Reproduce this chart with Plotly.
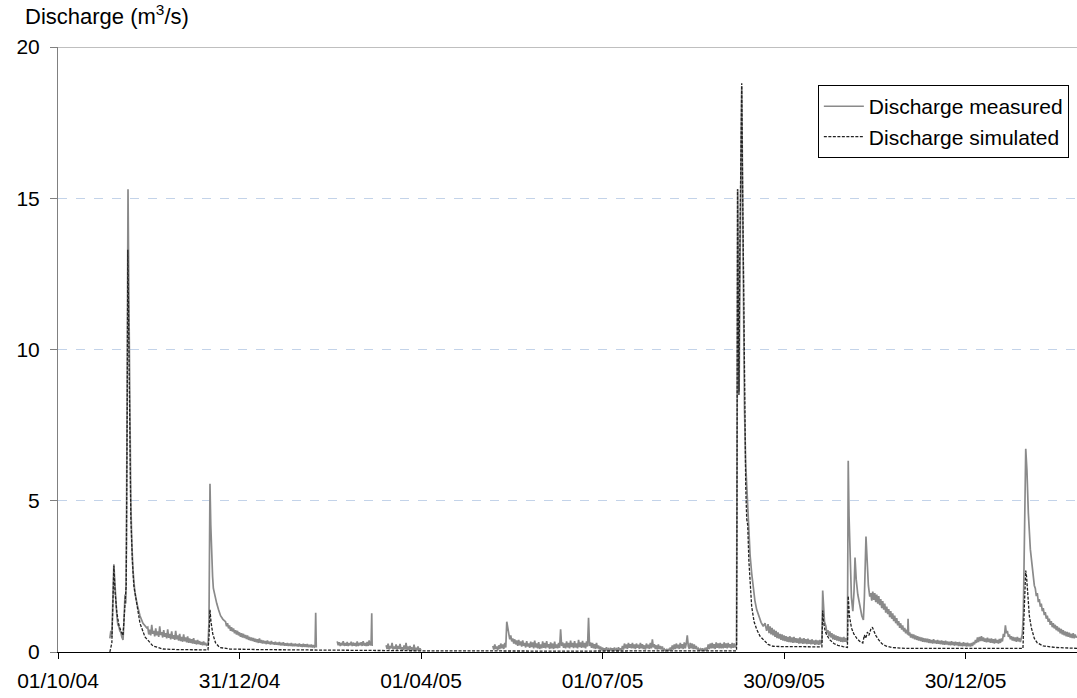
import pandas as pd
import plotly.graph_objects as go

# ---- data: time in days since 01/10/2004, discharge in m3/s ----
START = "2004-10-01"
HALF = 0.5  # half-day sampling step used for the noisy stretches


def grid(start, n, step=HALF):
    """Regular sampling times (days) for a stretch of readings."""
    return [start + step * i for i in range(n)]


# measured discharge ------------------------------------------------------
# autumn 2004 floods
meas_days_a1 = [26.0, 26.5, 27.0, 27.5, 28.0, 28.5, 29.0, 29.5, 30.0, 30.5,
                31.0, 31.5, 32.0, 32.6, 33.0, 33.6, 34.0, 34.3, 34.7, 35.1,
                35.5, 36.0, 36.5, 37.0, 37.6, 38.5, 39.6, 41.1, 42.6, 44.5]
meas_q_a1 = [0.45, 0.7, 0.5, 1.5, 2.9, 2.3, 1.6, 1.2, 0.9, 0.85,
             0.7, 0.65, 0.5, 0.4, 0.9, 1.9, 1.6, 3.5, 9.0, 15.3,
             12.0, 7.5, 5.0, 3.6, 2.7, 2.0, 1.6, 1.2, 0.95, 0.8]
meas_days_a2 = grid(45.0, 60)
meas_q_a2 = [0.82, 0.58, 0.74, 0.55, 0.9, 0.6, 0.7, 0.52, 0.78, 0.55,
             0.68, 0.5, 0.85, 0.56, 0.66, 0.48, 0.72, 0.5, 0.62, 0.45,
             0.75, 0.47, 0.6, 0.42, 0.68, 0.44, 0.56, 0.4, 0.7, 0.42,
             0.55, 0.38, 0.6, 0.36, 0.5, 0.34, 0.58, 0.35, 0.48, 0.32,
             0.52, 0.3, 0.45, 0.3, 0.42, 0.28, 0.46, 0.27, 0.38, 0.25,
             0.4, 0.26, 0.36, 0.24, 0.33, 0.22, 0.35, 0.23, 0.3, 0.22]
meas_days_a3 = [75.2, 75.7, 76.2, 76.6, 77.0, 77.5, 77.9, 78.6, 79.6, 80.5, 81.5, 82.7]
meas_q_a3 = [0.24, 1.0, 5.56, 4.2, 3.2, 2.5, 2.1, 1.85, 1.6, 1.4, 1.2, 1.08]
meas_days_a4 = grid(84.0, 90)
meas_q_a4 = [1.0, 0.85, 0.95, 0.78, 0.88, 0.7, 0.82, 0.68, 0.78, 0.62,
             0.72, 0.58, 0.7, 0.55, 0.65, 0.5, 0.62, 0.48, 0.6, 0.46,
             0.56, 0.43, 0.55, 0.4, 0.5, 0.38, 0.48, 0.36, 0.46, 0.34,
             0.44, 0.32, 0.42, 0.3, 0.45, 0.3, 0.4, 0.28, 0.38, 0.28,
             0.36, 0.26, 0.38, 0.27, 0.34, 0.25, 0.36, 0.26, 0.32, 0.24,
             0.34, 0.24, 0.31, 0.23, 0.33, 0.22, 0.3, 0.22, 0.32, 0.21,
             0.29, 0.21, 0.3, 0.2, 0.28, 0.2, 0.3, 0.19, 0.27, 0.19,
             0.28, 0.19, 0.26, 0.18, 0.28, 0.18, 0.25, 0.17, 0.27, 0.17,
             0.25, 0.17, 0.26, 0.16, 0.24, 0.16, 0.25, 0.15, 0.23, 0.16]
meas_days_a5 = [128.9, 129.2, 129.5]
meas_q_a5 = [0.18, 1.3, 0.15]

# February 2005
meas_days_b = grid(140.0, 34) + [157.0, 157.3, 157.5]
meas_q_b = [0.35, 0.22, 0.32, 0.2, 0.3, 0.22, 0.36, 0.2, 0.3, 0.21,
            0.33, 0.2, 0.29, 0.22, 0.34, 0.2, 0.31, 0.21, 0.3, 0.19,
            0.35, 0.2, 0.3, 0.22, 0.32, 0.2, 0.36, 0.21, 0.3, 0.2,
            0.33, 0.2, 0.38, 0.22,
            0.3, 1.28, 0.2]

# March 2005
meas_days_c = grid(164.5, 36)
meas_q_c = [0.22, 0.1, 0.28, 0.08, 0.2, 0.12, 0.3, 0.08, 0.18, 0.1,
            0.25, 0.07, 0.2, 0.1, 0.27, 0.08, 0.16, 0.06, 0.22, 0.08,
            0.3, 0.07, 0.18, 0.06, 0.2, 0.08, 0.15, 0.05, 0.24, 0.06,
            0.14, 0.05, 0.18, 0.06, 0.12, 0.05]

# May 2005 to the end of the record (continuous)
meas_days_d = grid(218.0, 244)
meas_q_d = [0.2, 0.08, 0.25, 0.1, 0.18, 0.06, 0.22, 0.1, 0.28, 0.12,
            0.25, 0.1, 0.3, 0.15, 1.0, 0.75, 0.6, 0.42, 0.55, 0.35,
            0.45, 0.28, 0.42, 0.25, 0.38, 0.2, 0.4, 0.22, 0.35, 0.18,
            0.38, 0.2, 0.3, 0.15, 0.36, 0.18, 0.28, 0.14, 0.34, 0.16,
            0.32, 0.12, 0.38, 0.15, 0.28, 0.12, 0.33, 0.1, 0.25, 0.12,
            0.35, 0.14, 0.3, 0.12, 0.36, 0.15, 0.26, 0.1, 0.32, 0.12,
            0.28, 0.1, 0.34, 0.13, 0.25, 0.12, 0.3, 0.14, 0.75, 0.2,
            0.32, 0.14, 0.28, 0.12, 0.35, 0.15, 0.3, 0.12, 0.38, 0.16,
            0.3, 0.13, 0.36, 0.15, 0.28, 0.12, 0.4, 0.16, 0.32, 0.14,
            0.37, 0.15, 0.3, 0.12, 0.35, 0.18, 1.13, 0.2, 0.32, 0.14,
            0.3, 0.12, 0.26, 0.1, 0.3, 0.12, 0.22, 0.08, 0.18, 0.06,
            0.15, 0.05, 0.12, 0.04, 0.16, 0.05, 0.1, 0.04, 0.14, 0.05,
            0.12, 0.04, 0.15, 0.05, 0.1, 0.04, 0.16, 0.05, 0.12, 0.06,
            0.2, 0.08, 0.28, 0.12, 0.25, 0.1, 0.3, 0.14, 0.26, 0.12,
            0.3, 0.12, 0.25, 0.1, 0.28, 0.14, 0.24, 0.1, 0.3, 0.12,
            0.26, 0.1, 0.22, 0.08, 0.28, 0.12, 0.24, 0.1, 0.3, 0.12,
            0.42, 0.15, 0.26, 0.1, 0.22, 0.08, 0.25, 0.1, 0.2, 0.08,
            0.18, 0.06, 0.1, 0.04, 0.08, 0.03, 0.1, 0.04, 0.15, 0.06,
            0.22, 0.08, 0.25, 0.1, 0.28, 0.12, 0.24, 0.1, 0.3, 0.12,
            0.26, 0.1, 0.32, 0.12, 0.28, 0.55, 0.2, 0.1, 0.3, 0.12,
            0.28, 0.1, 0.25, 0.1, 0.2, 0.08, 0.12, 0.05, 0.1, 0.04,
            0.12, 0.05, 0.1, 0.04, 0.15, 0.06, 0.25, 0.1, 0.28, 0.12,
            0.3, 0.12, 0.26, 0.1, 0.32, 0.14, 0.28, 0.12, 0.3, 0.12,
            0.27, 0.12, 0.32, 0.14, 0.28, 0.12, 0.3, 0.15, 0.26, 0.12,
            0.3, 0.14, 0.28, 0.15]
# September 2005 flood
meas_days_e1 = [340.2, 340.4, 340.6, 340.8, 341.1, 341.5, 341.9, 342.4, 342.8, 343.2,
                343.7, 344.2, 344.8, 345.6, 346.3, 347.0, 347.8, 348.6, 349.4, 350.3,
                351.5, 352.5, 353.6, 354.5, 355.3]
meas_q_e1 = [0.25, 3.0, 10.0, 15.3, 12.0, 8.6, 12.5, 17.5, 18.7, 15.5,
             11.0, 8.0, 6.2, 5.0, 4.0, 3.2, 2.6, 2.1, 1.7, 1.4,
             1.15, 0.98, 0.85, 0.95, 0.7]
meas_days_e2 = grid(356.0, 54)
meas_q_e2 = [0.92, 0.62, 0.85, 0.58, 0.8, 0.55, 0.74, 0.5, 0.7, 0.46,
             0.65, 0.44, 0.6, 0.4, 0.58, 0.38, 0.55, 0.36, 0.52, 0.34,
             0.5, 0.33, 0.52, 0.32, 0.48, 0.3, 0.5, 0.31, 0.46, 0.3,
             0.45, 0.28, 0.48, 0.29, 0.44, 0.27, 0.46, 0.28, 0.42, 0.26,
             0.44, 0.27, 0.4, 0.25, 0.42, 0.26, 0.38, 0.24, 0.4, 0.25,
             0.38, 0.24, 0.4, 0.25]
meas_days_e3 = [383.0, 383.4, 383.8, 384.3]
meas_q_e3 = [0.35, 2.03, 1.4, 1.0]
meas_days_e4 = grid(385.0, 22)
meas_q_e4 = [0.85, 0.62, 0.72, 0.52, 0.68, 0.48, 0.62, 0.42, 0.58, 0.4,
             0.55, 0.38, 0.52, 0.36, 0.5, 0.34, 0.48, 0.33, 0.5, 0.34,
             0.46, 0.32]
# October-November 2005 floods
meas_days_e5 = [395.8, 396.2, 396.6, 397.2, 397.8, 398.5, 399.1, 399.6, 400.2, 401,
                402, 403, 403.8, 404.3, 405.1, 405.6, 406.3, 407.0]
meas_q_e5 = [0.4, 6.32, 4.5, 2.8, 1.8, 1.35, 2.0, 3.12, 2.4, 1.9,
             1.5, 1.2, 1.06, 1.8, 3.82, 3.0, 2.2, 1.83]
meas_days_e6 = grid(407.5, 37) + [426.0, 426.2, 426.5]
meas_q_e6 = [1.95, 1.7, 2.0, 1.72, 1.95, 1.65, 1.9, 1.6, 1.85, 1.55,
             1.75, 1.45, 1.68, 1.4, 1.6, 1.3, 1.5, 1.25, 1.42, 1.15,
             1.35, 1.1, 1.28, 1.02, 1.2, 0.95, 1.12, 0.88, 1.02, 0.8,
             0.95, 0.74, 0.88, 0.68, 0.8, 0.62, 0.74,
             0.58, 1.1, 0.55]
meas_days_e7 = grid(427.0, 72)
meas_q_e7 = [0.65, 0.48, 0.6, 0.45, 0.58, 0.42, 0.55, 0.4, 0.52, 0.38,
             0.5, 0.36, 0.48, 0.34, 0.46, 0.33, 0.45, 0.32, 0.44, 0.3,
             0.42, 0.3, 0.4, 0.28, 0.42, 0.29, 0.38, 0.27, 0.4, 0.27,
             0.37, 0.26, 0.38, 0.25, 0.36, 0.24, 0.37, 0.25, 0.35, 0.23,
             0.34, 0.22, 0.36, 0.23, 0.33, 0.21, 0.34, 0.22, 0.32, 0.2,
             0.33, 0.2, 0.3, 0.19, 0.32, 0.2, 0.3, 0.18, 0.31, 0.19,
             0.28, 0.18, 0.3, 0.2, 0.33, 0.25, 0.4, 0.3, 0.48, 0.33,
             0.5, 0.36]
meas_days_e8 = grid(463.0, 42)
meas_q_e8 = [0.52, 0.36, 0.48, 0.34, 0.45, 0.32, 0.47, 0.33, 0.44, 0.3,
             0.45, 0.3, 0.42, 0.28, 0.44, 0.3, 0.4, 0.28, 0.43, 0.3,
             0.45, 0.35, 0.6, 0.5, 0.88, 0.62, 0.7, 0.5, 0.58, 0.42,
             0.52, 0.38, 0.5, 0.36, 0.48, 0.34, 0.5, 0.35, 0.46, 0.33,
             0.5, 0.6]
# February 2006 flood
meas_days_e9 = [484.0, 484.5, 485.2, 485.8, 486.5, 487.5, 488.6, 489.5]
meas_q_e9 = [1.3, 4.0, 6.72, 6.0, 4.6, 3.4, 2.6, 2.2]
meas_days_e10 = grid(490.0, 42) + [510.9]
meas_q_e10 = [2.1, 1.85, 1.95, 1.65, 1.75, 1.5, 1.6, 1.35, 1.45, 1.22,
              1.32, 1.1, 1.2, 1.0, 1.1, 0.9, 1.02, 0.82, 0.95, 0.78,
              0.9, 0.72, 0.85, 0.68, 0.8, 0.62, 0.76, 0.58, 0.72, 0.55,
              0.68, 0.52, 0.66, 0.5, 0.64, 0.48, 0.6, 0.46, 0.62, 0.45,
              0.58, 0.48,
              0.52]

# simulated discharge -----------------------------------------------------
sim_days_1 = [26.0, 27.0, 28.0, 28.6, 29.5, 30.5, 31.5, 32.6, 33.6, 34.2,
              34.7, 35.0, 35.4, 35.9, 36.5, 37.3, 38.0, 39.0, 41.1, 43.6,
              47.6, 52.6, 60, 75.2, 75.7, 76.2, 76.7, 77.6, 79.0, 81,
              86, 100, 130, 180, 250, 340.2]
sim_q_1 = [0.0, 0.3, 2.85, 2.0, 1.3, 0.9, 0.7, 0.55, 1.6, 2.2,
           8.0, 13.3, 11.0, 7.0, 4.5, 3.0, 2.2, 1.8, 0.95, 0.5,
           0.2, 0.1, 0.08, 0.07, 0.5, 1.4, 1.0, 0.6, 0.3, 0.15,
           0.1, 0.08, 0.06, 0.04, 0.03, 0.04]
sim_days_2 = [340.4, 340.7, 341.0, 341.4, 341.8, 342.3, 342.8, 343.3, 343.8, 344.3,
              344.8, 345.3, 345.8, 346.4, 347.0, 347.8, 349.0, 350.3, 352.0, 353.6,
              356.0, 358.5, 362.0, 383.0, 383.4,
              383.8, 384.6, 385.5, 387, 389, 391, 393.6, 395.8, 396.2, 396.8,
              397.8, 399, 400.5, 402, 403.5, 404.3, 405.0, 405.8, 406.6, 407.5,
              408.3, 409, 410, 411.5, 413, 415, 418, 425, 450, 483.8,
              484.5, 485.2, 485.6, 486.2, 487.0, 488.0, 489.5, 491, 494, 500,
              510.9]
sim_q_2 = [4.0, 15.3, 12.0, 8.5, 13.0, 17.5, 18.8, 15.0, 11.0, 7.5,
           5.5, 4.4, 4.2, 3.0, 2.2, 1.5, 1.0, 0.75, 0.52, 0.41,
           0.25, 0.19, 0.18, 0.17, 1.37,
           1.0, 0.7, 0.55, 0.4, 0.28, 0.22, 0.18, 0.15, 1.85, 1.2,
           0.8, 0.6, 0.45, 0.35, 0.3, 0.56, 0.45, 0.66, 0.55, 0.75,
           0.82, 0.7, 0.55, 0.4, 0.28, 0.2, 0.15, 0.12, 0.12, 0.12,
           1.5, 2.69, 2.5, 1.8, 1.2, 0.8, 0.45, 0.3, 0.2, 0.15,
           0.12]

tick_dates = ["2004-10-01", "2004-12-31", "2005-04-01", "2005-07-01", "2005-09-30", "2005-12-30"]
tick_labels = ["01/10/04", "31/12/04", "01/04/05", "01/07/05", "30/09/05", "30/12/05"]
y_ticks = [0, 5, 10, 15, 20]
X_END_DAY = 510.9

# ---- assemble ----
t0 = pd.Timestamp(START)


def to_dates(days):
    return [t0 + pd.to_timedelta(d, unit="D") for d in days]


def join(parts):
    dd, qq = [], []
    for d, q in parts:
        assert len(d) == len(q), (len(d), len(q), d[0])
        dd += d
        qq += q
    return dd, qq


segments = [
    join([(meas_days_a1, meas_q_a1), (meas_days_a2, meas_q_a2), (meas_days_a3, meas_q_a3),
          (meas_days_a4, meas_q_a4), (meas_days_a5, meas_q_a5)]),
    join([(meas_days_b, meas_q_b)]),
    join([(meas_days_c, meas_q_c)]),
    join([(meas_days_d, meas_q_d), (meas_days_e1, meas_q_e1), (meas_days_e2, meas_q_e2),
          (meas_days_e3, meas_q_e3), (meas_days_e4, meas_q_e4), (meas_days_e5, meas_q_e5),
          (meas_days_e6, meas_q_e6), (meas_days_e7, meas_q_e7), (meas_days_e8, meas_q_e8),
          (meas_days_e9, meas_q_e9), (meas_days_e10, meas_q_e10)]),
]
mx, my = [], []
for i, (dd, qq) in enumerate(segments):
    if i > 0:  # gaps in the measured record
        mx.append(None)
        my.append(None)
    mx += to_dates(dd)
    my += qq

sd, sq = join([(sim_days_1, sim_q_1), (sim_days_2, sim_q_2)])

FONT = "Liberation Sans, Arial, sans-serif"

fig = go.Figure()
fig.add_trace(go.Scatter(x=mx, y=my, mode="lines", name="Discharge measured",
                         line=dict(color="#8a8a8a", width=1.7), connectgaps=False))
fig.add_trace(go.Scatter(x=to_dates(sd), y=sq, mode="lines", name="Discharge simulated",
                         line=dict(color="#222222", width=1.3, dash="3px,1.5px")))

fig.update_layout(
    width=1077, height=698,
    margin=dict(l=58, r=0, t=47, b=46),
    paper_bgcolor="white", plot_bgcolor="white",
    font=dict(family=FONT, size=21, color="black"),
    showlegend=True,
    legend=dict(x=0.992, xanchor="right", y=0.937, yanchor="top",
                bordercolor="black", borderwidth=1, bgcolor="white",
                font=dict(size=21, family=FONT), tracegroupgap=0, itemwidth=40),
    xaxis=dict(type="date", automargin=False,
               range=[t0, t0 + pd.to_timedelta(X_END_DAY, unit="D")],
               tickvals=[pd.Timestamp(d) for d in tick_dates], ticktext=tick_labels,
               ticks="outside", ticklen=6, tickcolor="black",
               showline=True, linecolor="black", linewidth=1,
               showgrid=False, zeroline=False, ticklabelstandoff=4,
               tickfont=dict(size=21, family=FONT)),
    yaxis=dict(range=[0, 20], tickvals=y_ticks, automargin=False,
               ticks="outside", ticklen=7, tickcolor="#808080",
               showline=True, linecolor="#808080", linewidth=1,
               showgrid=True, gridcolor="#c3d3e9", griddash="dash", gridwidth=1,
               zeroline=False, ticklabelstandoff=6,
               tickfont=dict(size=21, family=FONT)),
    shapes=[dict(type="line", xref="paper", yref="y", x0=0, x1=1, y0=20, y1=20,
                 line=dict(color="#808080", width=1))],
    annotations=[dict(text="Discharge (m<sup>3</sup>/s)", xref="paper", yref="paper",
                      x=-35 / 1019, y=1 + 32 / 605, xanchor="left", yanchor="middle",
                      showarrow=False, font=dict(size=22, family=FONT))],
)

fig.write_html("out.html", config={"displayModeBar": False},
               post_script="document.body.style.margin='0px';")
